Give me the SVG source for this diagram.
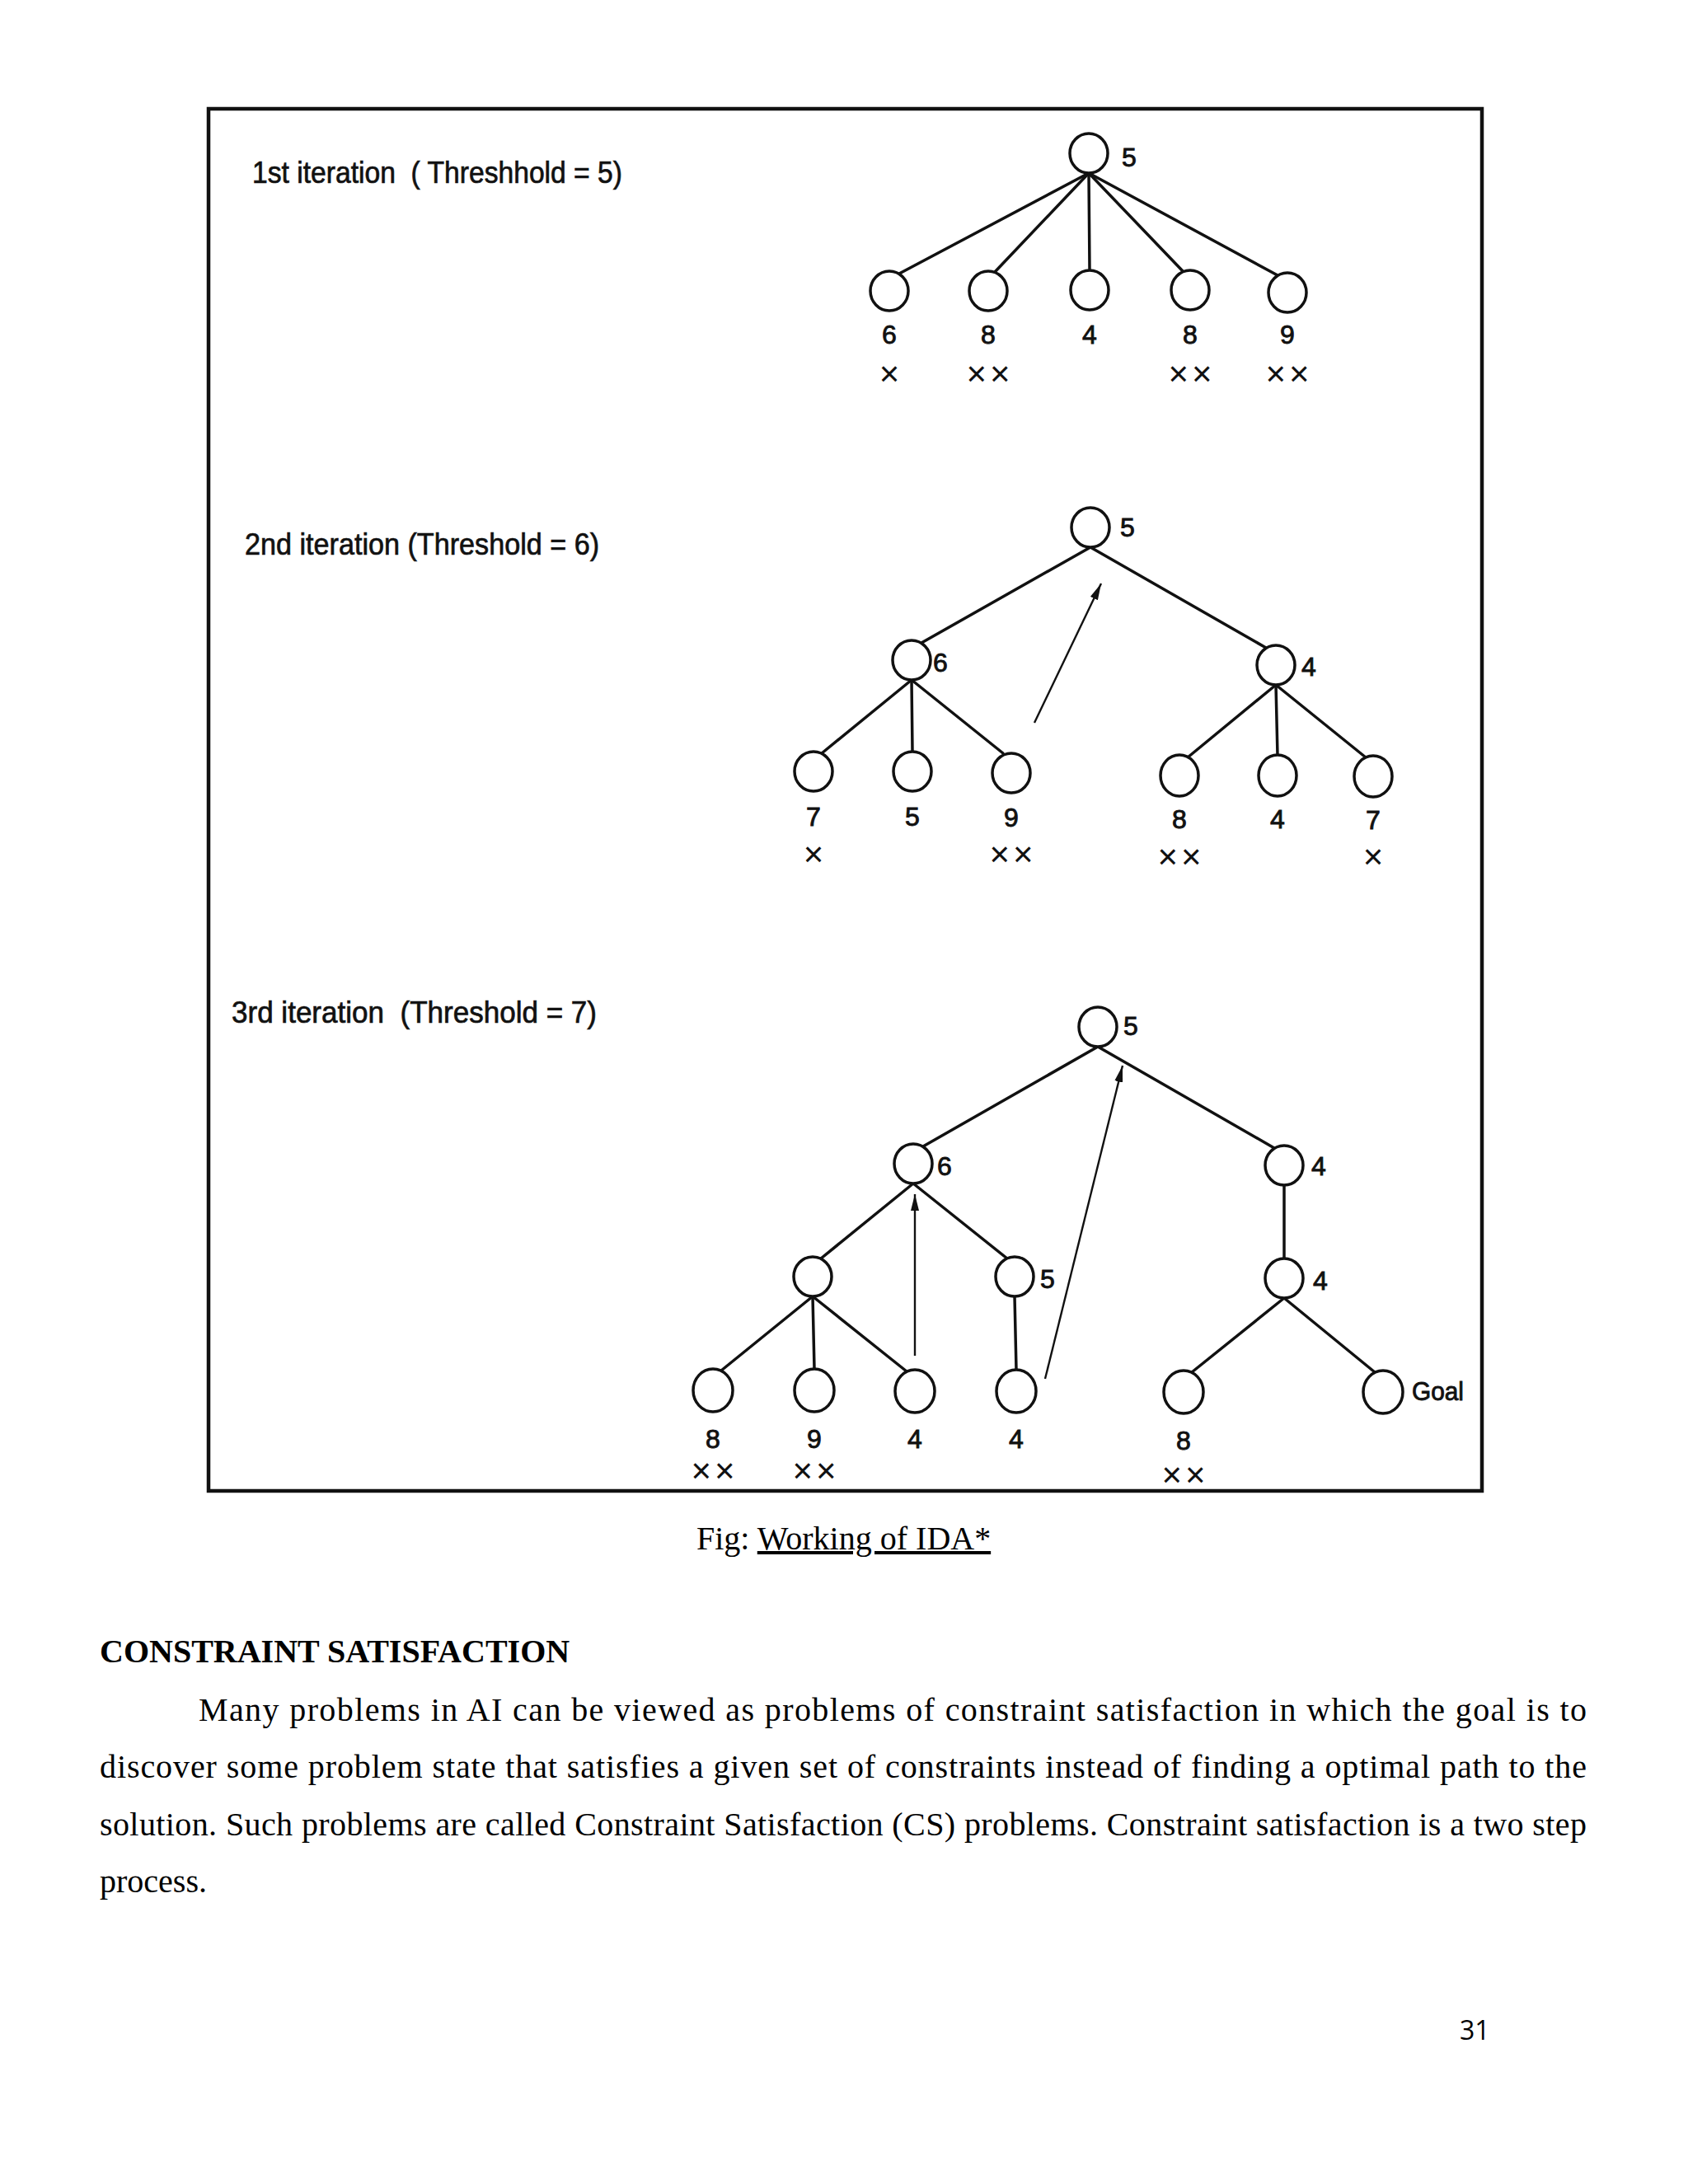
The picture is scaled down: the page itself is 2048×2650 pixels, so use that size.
<svg xmlns="http://www.w3.org/2000/svg" width="2048" height="2650" viewBox="0 0 2048 2650">
<style>
.n{fill:#fff;stroke:#111;stroke-width:3.5}
.e{stroke:#111;stroke-width:3.5;fill:none;stroke-linecap:round}
.a{stroke:#111;stroke-width:2.4;fill:none;marker-end:url(#ah)}
.l{font-family:"Liberation Sans",Arial,sans-serif;font-size:32px;fill:#111;stroke:#111;stroke-width:0.9}
.c{text-anchor:middle}
.x{font-family:"Liberation Sans",Arial,sans-serif;font-size:42px;fill:#111;text-anchor:middle;letter-spacing:4px}
.it{font-family:"Liberation Sans",Arial,sans-serif;font-size:37px;fill:#111;stroke:#111;stroke-width:0.7}
.b{font-family:"Liberation Serif","Times New Roman",serif;font-size:40px;fill:#000}
</style>
<defs>
<marker id="ah" viewBox="0 0 20 10" refX="20" refY="5" markerWidth="20" markerHeight="10" markerUnits="userSpaceOnUse" orient="auto">
<path d="M0,0 L20,5 L0,10 z" fill="#111"/>
</marker>
</defs>
<rect width="2048" height="2650" fill="#fff"/>
<rect id="frame" x="253" y="132" width="1545" height="1677" fill="none" stroke="#111" stroke-width="4.5"/>

<g id="titles">
<text class="it" x="306" y="222" textLength="449" lengthAdjust="spacingAndGlyphs" xml:space="preserve">1st iteration  ( Threshhold = 5)</text>
<text class="it" x="297" y="673" textLength="430" lengthAdjust="spacingAndGlyphs">2nd iteration (Threshold = 6)</text>
<text class="it" x="281" y="1241" textLength="443" lengthAdjust="spacingAndGlyphs" xml:space="preserve">3rd iteration  (Threshold = 7)</text>
</g>

<g id="connectors">
<line class="e" x1="1321" y1="210" x2="1091" y2="332"/>
<line class="e" x1="1321" y1="210" x2="1207" y2="330"/>
<line class="e" x1="1321" y1="210" x2="1322" y2="328"/>
<line class="e" x1="1321" y1="210" x2="1436" y2="330"/>
<line class="e" x1="1321" y1="210" x2="1550" y2="334"/>
<line class="e" x1="1323" y1="664" x2="1118" y2="780"/>
<line class="e" x1="1323" y1="664" x2="1536" y2="786"/>
<line class="e" x1="1106" y1="825" x2="997" y2="914"/>
<line class="e" x1="1106" y1="825" x2="1107" y2="912"/>
<line class="e" x1="1106" y1="825" x2="1217" y2="914"/>
<line class="e" x1="1548" y1="831" x2="1441" y2="919"/>
<line class="e" x1="1548" y1="831" x2="1550" y2="917"/>
<line class="e" x1="1548" y1="831" x2="1657" y2="919"/>
<line class="a" x1="1255" y1="877" x2="1336" y2="708"/>
<line class="e" x1="1332" y1="1270" x2="1120" y2="1391"/>
<line class="e" x1="1332" y1="1270" x2="1546" y2="1393"/>
<line class="e" x1="1108" y1="1436" x2="996" y2="1527"/>
<line class="e" x1="1108" y1="1436" x2="1222" y2="1527"/>
<line class="e" x1="1558" y1="1438" x2="1558" y2="1527"/>
<line class="e" x1="986" y1="1573" x2="875" y2="1663"/>
<line class="e" x1="986" y1="1573" x2="988" y2="1661"/>
<line class="e" x1="986" y1="1573" x2="1100" y2="1664"/>
<line class="e" x1="1231" y1="1573" x2="1233" y2="1662"/>
<line class="e" x1="1558" y1="1575" x2="1446" y2="1665"/>
<line class="e" x1="1558" y1="1575" x2="1668" y2="1665"/>
<line class="a" x1="1110" y1="1645" x2="1110" y2="1449"/>
<line class="a" x1="1268" y1="1673" x2="1362" y2="1293"/>
</g>

<g id="t1-root"><ellipse class="n" cx="1321" cy="186" rx="23" ry="24"/><text class="l" x="1361" y="202">5</text></g>
<g id="t1-a"><ellipse class="n" cx="1079" cy="353" rx="23" ry="24"/><text class="l c" x="1079" y="417">6</text><text class="x" x="1081" y="468">×</text></g>
<g id="t1-b"><ellipse class="n" cx="1199" cy="353" rx="23" ry="24"/><text class="l c" x="1199" y="417">8</text><text class="x" x="1201" y="468">××</text></g>
<g id="t1-c"><ellipse class="n" cx="1322" cy="352" rx="23" ry="24"/><text class="l c" x="1322" y="417">4</text></g>
<g id="t1-d"><ellipse class="n" cx="1444" cy="352" rx="23" ry="24"/><text class="l c" x="1444" y="417">8</text><text class="x" x="1446" y="468">××</text></g>
<g id="t1-e"><ellipse class="n" cx="1562" cy="355" rx="23" ry="24"/><text class="l c" x="1562" y="417">9</text><text class="x" x="1564" y="468">××</text></g>

<g id="t2-root"><ellipse class="n" cx="1323" cy="640" rx="23" ry="24"/><text class="l" x="1359" y="651">5</text></g>
<g id="t2-6"><ellipse class="n" cx="1106" cy="801" rx="23" ry="24"/><text class="l" x="1132" y="815">6</text></g>
<g id="t2-4"><ellipse class="n" cx="1548" cy="807" rx="23" ry="24"/><text class="l" x="1579" y="820">4</text></g>
<g id="t2-a"><ellipse class="n" cx="987" cy="936" rx="23" ry="24"/><text class="l c" x="987" y="1002">7</text><text class="x" x="989" y="1051">×</text></g>
<g id="t2-b"><ellipse class="n" cx="1107" cy="936" rx="23" ry="24"/><text class="l c" x="1107" y="1002">5</text></g>
<g id="t2-c"><ellipse class="n" cx="1227" cy="938" rx="23" ry="24"/><text class="l c" x="1227" y="1003">9</text><text class="x" x="1229" y="1051">××</text></g>
<g id="t2-d"><ellipse class="n" cx="1431" cy="941" rx="23" ry="25"/><text class="l c" x="1431" y="1005">8</text><text class="x" x="1433" y="1054">××</text></g>
<g id="t2-e"><ellipse class="n" cx="1550" cy="941" rx="23" ry="25"/><text class="l c" x="1550" y="1005">4</text></g>
<g id="t2-f"><ellipse class="n" cx="1666" cy="942" rx="23" ry="25"/><text class="l c" x="1666" y="1006">7</text><text class="x" x="1668" y="1054">×</text></g>

<g id="t3-root"><ellipse class="n" cx="1332" cy="1246" rx="23" ry="24"/><text class="l" x="1363" y="1256">5</text></g>
<g id="t3-6"><ellipse class="n" cx="1108" cy="1412" rx="23" ry="24"/><text class="l" x="1137" y="1426">6</text></g>
<g id="t3-4a"><ellipse class="n" cx="1558" cy="1414" rx="23" ry="24"/><text class="l" x="1591" y="1426">4</text></g>
<g id="t3-m"><ellipse class="n" cx="986" cy="1549" rx="23" ry="24"/></g>
<g id="t3-5"><ellipse class="n" cx="1231" cy="1549" rx="23" ry="24"/><text class="l" x="1262" y="1563">5</text></g>
<g id="t3-4b"><ellipse class="n" cx="1558" cy="1551" rx="23" ry="24"/><text class="l" x="1593" y="1565">4</text></g>
<g id="t3-a"><ellipse class="n" cx="865" cy="1687" rx="24" ry="26"/><text class="l c" x="865" y="1757">8</text><text class="x" x="867" y="1799">××</text></g>
<g id="t3-b"><ellipse class="n" cx="988" cy="1687" rx="24" ry="26"/><text class="l c" x="988" y="1757">9</text><text class="x" x="990" y="1799">××</text></g>
<g id="t3-c"><ellipse class="n" cx="1110" cy="1688" rx="24" ry="26"/><text class="l c" x="1110" y="1757">4</text></g>
<g id="t3-d"><ellipse class="n" cx="1233" cy="1688" rx="24" ry="26"/><text class="l c" x="1233" y="1757">4</text></g>
<g id="t3-e"><ellipse class="n" cx="1436" cy="1689" rx="24" ry="26"/><text class="l c" x="1436" y="1759">8</text><text class="x" x="1438" y="1804">××</text></g>
<g id="t3-goal"><ellipse class="n" cx="1678" cy="1689" rx="24" ry="26"/><text class="l" x="1713" y="1699" textLength="63" lengthAdjust="spacingAndGlyphs">Goal</text></g>

<g id="caption">
<text class="b" x="845" y="1880">Fig: <tspan text-decoration="underline">Working of IDA*</tspan></text>
</g>

<g id="bodytext">
<text class="b" x="121" y="2017" font-weight="bold">CONSTRAINT SATISFACTION</text>
<text class="b" x="241" y="2088" textLength="1684" lengthAdjust="spacing">Many problems in AI can be viewed as problems of constraint satisfaction in which the goal is to</text>
<text class="b" x="121" y="2157" textLength="1804" lengthAdjust="spacing">discover some problem state that satisfies a given set of constraints instead of finding a optimal path to the</text>
<text class="b" x="121" y="2227" textLength="1804" lengthAdjust="spacing">solution. Such problems are called Constraint Satisfaction (CS) problems. Constraint satisfaction is a two step</text>
<text class="b" x="121" y="2296">process.</text>
<text x="1771" y="2475" font-family="'Open Sans','Liberation Sans',sans-serif" font-size="32" fill="#000">31</text>
</g>
</svg>
